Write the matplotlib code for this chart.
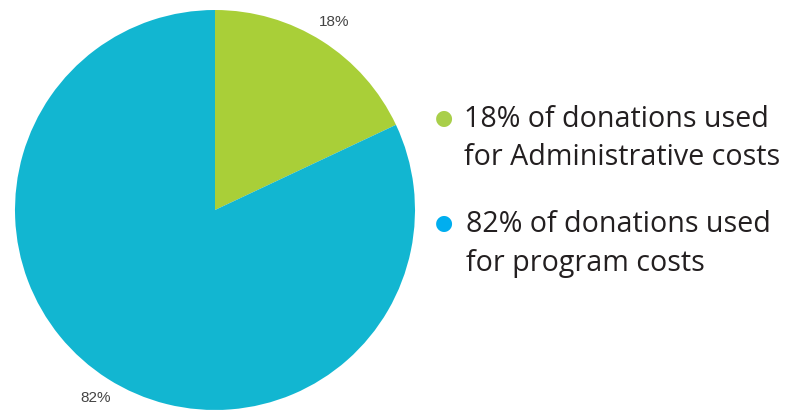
import matplotlib.pyplot as plt

# slice data
shares = [18, 82]
slice_labels = ["18%", "82%"]
slice_colors = ["#a9cf38", "#12b6d1"]

# legend text
legend_lines = [["18% of donations used", "for Administrative costs"],
                ["82% of donations used", "for program costs"]]
dot_colors = ["#a9cf4a", "#00aeef"]

W, H = 792, 411
fig = plt.figure(figsize=(W / 100, H / 100), dpi=100)

# pie centre (215, 210), radius 200 px
ax = fig.add_axes([15 / W, 1 - 410 / H, 400 / W, 400 / H])
ax.pie(shares, labels=slice_labels, colors=slice_colors, startangle=90,
       counterclock=False, labeldistance=1.115,
       textprops=dict(color="#444444", fontsize=11, family="Liberation Sans"),
       wedgeprops=dict(linewidth=0))
for t in ax.texts:
    t.set_ha("center")
    t.set_va("center")
ax.set_xlim(-1, 1)
ax.set_ylim(-1, 1)
ax.set_aspect("equal")
ax.axis("off")

# legend as free text
dot_y = [118, 223]
base_y = [[127, 165], [232, 271]]
text_x = [464, 466]
for i in range(len(legend_lines)):
    fig.text(444 / W, 1 - dot_y[i] / H, "\u25cf", color=dot_colors[i],
             fontsize=15, ha="center", va="center")
    for j, line in enumerate(legend_lines[i]):
        fig.text(text_x[i] / W, 1 - base_y[i][j] / H, line, color="#231f20",
                 fontsize=20.6, family="Open Sans", ha="left", va="baseline")

fig.savefig("out.png", dpi=100)
